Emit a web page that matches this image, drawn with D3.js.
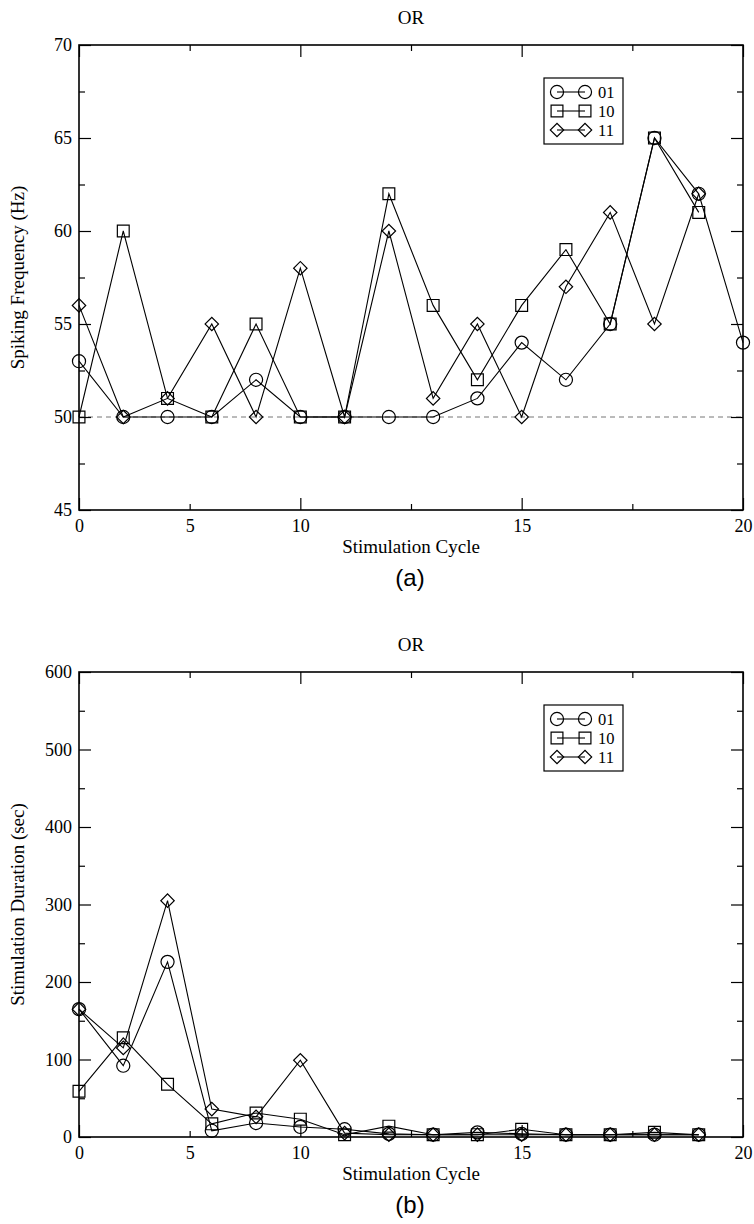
<!DOCTYPE html>
<html>
<head>
<meta charset="utf-8">
<script src="https://cdn.jsdelivr.net/npm/d3@7"></script>
<style>
  body { margin: 0; background: #fff; }
  svg text { font-family: "Liberation Serif", "Times New Roman", serif; fill: #000; }
  .tick line { stroke: #000; stroke-width: 1.2px; }
</style>
</head>
<body>
<div id="chart"></div>
<script>
// stimulation cycles (x positions of the points)
const cycles = [0, 2, 4, 6, 8, 10, 11, 12, 13, 14, 15, 16, 17, 18, 19, 20];
const seriesNames = ["01", "10", "11"];

// panel (a): spiking frequency (Hz)
const freq01 = [53, 50, 50, 50, 52, 50, 50, 50, 50, 51, 54, 52, 55, 65, 62, 54];
const freq10 = [50, 60, 51, 50, 55, 50, 50, 62, 56, 52, 56, 59, 55, 65, 61];
const freq11 = [56, 50, 51, 55, 50, 58, 50, 60, 51, 55, 50, 57, 61, 55, 62];

// panel (b): stimulation duration (sec)
const dur01 = [165, 92, 226, 8, 18, 13, 10, 4, 3, 6, 4, 3, 3, 3, 3];
const dur10 = [59, 128, 68, 17, 31, 23, 3, 14, 3, 3, 10, 3, 3, 6, 3];
const dur11 = [165, 115, 305, 36, 26, 99, 5, 3, 3, 3, 3, 3, 3, 3, 3];

const xLabelTicks = [0, 5, 10, 15, 20];
const xMajorTicks = [0, 10, 15, 20];
const xMinorTicks = [5, 12.5, 17.5];

const W = 754, H = 1224;
const serif = "'Liberation Serif', 'Times New Roman', serif";
const svg = d3.select("#chart").append("svg")
    .attr("width", W)
    .attr("height", H);

const left = 79, width = 664, height = 465;

// circle, square, diamond (a square turned 45 degrees)
const symbols = [d3.symbolCircle, d3.symbolSquare, d3.symbolSquare];
const symbolSizes = [135, 140, 90];
const symbolRot = [0, 0, 45];

function marker(sel, k) {
    return sel
        .attr("d", d3.symbol().type(symbols[k]).size(symbolSizes[k]))
        .attr("fill", "none")
        .attr("stroke", "#000")
        .attr("stroke-width", 1.2);
}

function drawPanel(top, cfg) {
    const g = svg.append("g").attr("transform", `translate(${left},${top})`);

    // x axis is piecewise: 0-10 takes a third, 10-20 the rest
    const x = d3.scaleLinear().domain([0, 10, 20]).range([0, width / 3, width]);
    const y = d3.scaleLinear().domain(cfg.yDomain).range([height, 0]);

    // reference line
    if (cfg.refLine != null) {
        g.append("line")
            .attr("x1", x(0)).attr("x2", x(20))
            .attr("y1", y(cfg.refLine)).attr("y2", y(cfg.refLine))
            .attr("stroke", "#777")
            .attr("stroke-width", 1)
            .attr("stroke-dasharray", "5,4");
    }

    // axes: bottom/top/left/right, ticks inward
    const bottomLabels = g.append("g")
        .attr("transform", `translate(0,${height})`)
        .call(d3.axisBottom(x).tickValues(xLabelTicks).tickSize(0).tickPadding(9).tickFormat(d3.format("d")));
    bottomLabels.select(".domain").remove();
    bottomLabels.selectAll("text").style("font-size", "18px").style("font-family", serif);

    [[height, d3.axisBottom], [0, d3.axisTop]].forEach(([ty, ax]) => {
        g.append("g").attr("transform", `translate(0,${ty})`)
            .call(ax(x).tickValues(xMajorTicks).tickSize(-12).tickFormat(""))
            .call(a => a.select(".domain").remove());
        g.append("g").attr("transform", `translate(0,${ty})`)
            .call(ax(x).tickValues(xMinorTicks).tickSize(-6).tickFormat(""))
            .call(a => a.select(".domain").remove());
    });

    const yLabels = g.append("g")
        .call(d3.axisLeft(y).tickValues(cfg.yMajor).tickSize(-12).tickPadding(7).tickFormat(d3.format("d")));
    yLabels.select(".domain").remove();
    yLabels.selectAll("text").style("font-size", "18px").style("font-family", serif);
    g.append("g").call(d3.axisLeft(y).tickValues(cfg.yMinor).tickSize(-6).tickFormat(""))
        .call(a => a.select(".domain").remove());
    g.append("g").attr("transform", `translate(${width},0)`)
        .call(d3.axisRight(y).tickValues(cfg.yMajor).tickSize(-12).tickFormat(""))
        .call(a => a.select(".domain").remove());
    g.append("g").attr("transform", `translate(${width},0)`)
        .call(d3.axisRight(y).tickValues(cfg.yMinor).tickSize(-6).tickFormat(""))
        .call(a => a.select(".domain").remove());

    // frame
    g.append("rect")
        .attr("width", width).attr("height", height)
        .attr("fill", "none")
        .attr("stroke", "#000")
        .attr("stroke-width", 1.6);

    const line = d3.line()
        .x((d, i) => x(cycles[i]))
        .y(d => y(d));

    cfg.series.forEach((vals, k) => {
        g.append("path")
            .datum(vals)
            .attr("d", line)
            .attr("fill", "none")
            .attr("stroke", "#000")
            .attr("stroke-width", 1.1);
        g.selectAll(null)
            .data(vals)
            .enter().append("path")
            .attr("transform", (d, i) => `translate(${x(cycles[i])},${y(d)}) rotate(${symbolRot[k]})`)
            .call(marker, k);
    });

    // legend
    const lg = g.append("g").attr("transform", `translate(${544 - left},${cfg.legendTop})`);
    lg.append("rect")
        .attr("width", 79).attr("height", 66)
        .attr("fill", "#fff")
        .attr("stroke", "#000")
        .attr("stroke-width", 1.2);
    seriesNames.forEach((name, k) => {
        const ry = 14 + k * 19;
        lg.append("line")
            .attr("x1", 13).attr("x2", 41)
            .attr("y1", ry).attr("y2", ry)
            .attr("stroke", "#000").attr("stroke-width", 1.1);
        [13, 41].forEach(sx => {
            lg.append("path")
                .attr("transform", `translate(${sx},${ry}) rotate(${symbolRot[k]})`)
                .call(marker, k);
        });
        lg.append("text")
            .attr("x", 54).attr("y", ry)
            .attr("dy", "0.35em")
            .style("font-size", "16.5px")
            .text(name);
    });

    // titles
    svg.append("text")
        .attr("x", left + width / 2).attr("y", top - 21)
        .attr("text-anchor", "middle")
        .style("font-size", "19px")
        .text("OR");
    svg.append("text")
        .attr("x", left + width / 2).attr("y", top + height + 43)
        .attr("text-anchor", "middle")
        .style("font-size", "19px")
        .text("Stimulation Cycle");
    svg.append("text")
        .attr("transform", `translate(24,${top + height / 2}) rotate(-90)`)
        .attr("text-anchor", "middle")
        .style("font-size", "19px")
        .text(cfg.yLabel);
    svg.append("text")
        .attr("x", left + width / 2 - 1).attr("y", top + height + 76)
        .attr("text-anchor", "middle")
        .style("font-family", "'Liberation Sans', Arial, sans-serif")
        .style("font-size", "24px")
        .text(cfg.tag);
}

drawPanel(45, {
    yDomain: [45, 70],
    yMajor: [45, 50, 55, 60, 65, 70],
    yMinor: [47.5, 52.5, 57.5, 62.5, 67.5],
    refLine: 50,
    series: [freq01, freq10, freq11],
    yLabel: "Spiking Frequency (Hz)",
    tag: "(a)",
    legendTop: 33
});

drawPanel(672, {
    yDomain: [0, 600],
    yMajor: [0, 100, 200, 300, 400, 500, 600],
    yMinor: [50, 150, 250, 350, 450, 550],
    refLine: null,
    series: [dur01, dur10, dur11],
    yLabel: "Stimulation Duration (sec)",
    tag: "(b)",
    legendTop: 33
});
</script>
</body>
</html>
